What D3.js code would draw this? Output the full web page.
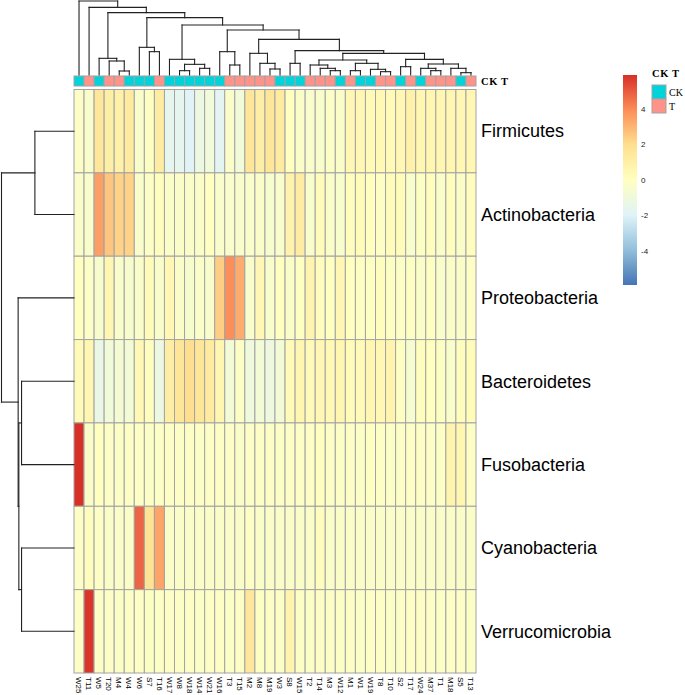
<!DOCTYPE html>
<html><head><meta charset="utf-8">
<script src="https://cdn.jsdelivr.net/npm/d3@7"></script>
<style>body{margin:0;background:#fff} svg{display:block}</style>
</head><body>
<svg id="c" width="685" height="695"></svg>
<script>
// ---------- DATA ----------
const columns = ["W25","T11","W5","T20","M4","W4","W6","S7","T16","W17","W8","W18","W14","W21","W16","T3","T15","M2","M8","M19","W3","S8","W15","T2","T14","M3","W12","M1","W1","W19","T8","T10","S2","T17","W24","M37","T1","M18","S5","T13"];
const columnGroup = ["CK","T","CK","T","T","CK","CK","CK","T","CK","CK","CK","CK","CK","CK","T","T","T","T","T","CK","CK","CK","T","T","T","CK","T","CK","CK","T","T","CK","T","CK","T","T","T","CK","T"];
const groups = ["CK","T"];
const groupColors = ["#00D4DB","#FF9289"];
const rows = ["Firmicutes","Actinobacteria","Proteobacteria","Bacteroidetes","Fusobacteria","Cyanobacteria","Verrucomicrobia"];

const firmicutes      = [-0.2,-0.4,1.5,1.0,0.9,1.3,-0.4,-0.1,1.2,-1.6,-1.6,-1.9,-1.2,-0.9,-1.8,-0.3,-0.9,1.6,1.1,1.6,1.3,0.0,-0.3,-0.4,-0.4,-0.2,-0.3,0.5,0.5,0.3,0.4,0.3,0.5,0.9,0.6,0.6,0.6,0.6,0.5,0.5];
const actinobacteria  = [-0.3,-0.4,3.5,2.6,2.3,2.3,-0.4,-0.2,0.1,-0.3,-0.3,-0.3,-0.3,0.0,-0.4,-0.4,-0.4,-0.4,-0.3,-0.5,-0.4,0.8,1.2,-0.4,0.2,-0.3,-0.4,0.1,0.2,0.0,-0.2,0.2,0.2,-0.4,-0.1,0.1,-0.3,0.1,-0.3,0.1];
const proteobacteria  = [0.0,-0.2,-0.5,0.6,-0.4,-0.5,-0.3,0.2,-0.4,0.5,-0.3,-0.5,-0.3,-0.4,2.4,3.9,3.2,-0.4,0.5,-0.4,0.0,-0.3,-0.1,0.7,0.1,0.0,0.5,0.0,-0.1,-0.1,0.1,-0.1,-0.2,-0.1,-0.3,-0.1,-0.4,-0.3,-0.3,-0.2];
const bacteroidetes   = [0.3,0.6,-1.3,-0.9,-0.7,-0.8,0.4,0.1,-1.2,1.1,1.6,2.0,1.6,1.3,0.6,-0.8,-0.2,-1.0,-0.8,-1.1,-0.8,0.3,0.6,0.3,0.5,0.4,0.6,0.2,0.3,0.6,0.5,0.7,-0.1,-0.6,0.1,0.0,-0.1,-0.4,0.1,0.2];
const fusobacteria    = [5.9,-0.3,0.0,-0.2,-0.2,-0.2,-0.2,-0.2,-0.2,-0.2,-0.2,-0.2,-0.2,-0.2,-0.2,-0.2,-0.3,-0.2,-0.2,-0.2,-0.2,-0.2,-0.2,-0.2,0.0,-0.2,-0.2,-0.2,-0.2,-0.1,-0.2,-0.2,-0.2,-0.2,-0.2,-0.2,-0.2,0.7,0.6,-0.2];
const cyanobacteria   = [-0.2,0.1,-0.2,-0.3,-0.3,-0.3,4.8,1.8,3.4,-0.3,-0.3,-0.3,-0.3,-0.3,-0.3,-0.3,-0.3,-0.2,-0.3,-0.3,-0.3,-0.3,-0.3,-0.3,0.1,-0.3,-0.3,-0.3,-0.3,-0.3,-0.3,-0.3,-0.3,-0.3,-0.3,-0.3,-0.3,-0.3,-0.3,-0.3];
const verrucomicrobia = [-0.2,5.8,-0.2,-0.2,-0.2,-0.2,-0.2,-0.1,-0.2,-0.2,-0.2,-0.2,-0.2,-0.2,-0.2,-0.2,-0.2,1.5,-0.1,-0.2,-0.2,0.7,-0.2,-0.2,-0.2,-0.2,-0.2,-0.2,-0.2,-0.2,-0.2,-0.2,-0.2,-0.2,-0.2,-0.2,-0.2,-0.2,-0.2,-0.2];
const matrix = [firmicutes, actinobacteria, proteobacteria, bacteroidetes, fusobacteria, cyanobacteria, verrucomicrobia];

// dendrograms: [height, left, right]
const colTree = [222,"W25",[203,"T11",[187,[50,"W5",[42,"T20",[12,"M4","W4"]]],[172,[83,"W6",[70,"S7","T16"]],[150,[47,"W17",[32,[13,"W8","W18"],[20,"W14","W21"]]],[135,[70,"W16",[30,"T3","T15"]],[107,[65,"M2",[35,"M8",[18,"M19","W3"]]],[73,[35,"S8","W15"],[65,[45,[30,"T2",[20,"T14",[13,"M3","W12"]]],[35,[13,"M1","W1"],[17,"W19",[10,"T8","T10"]]]],[47,[25,"S2","T17"],[33,[20,"W24",[13,"M37","T1"]],[20,"M18",[7,"S5","T13"]]]]]]]]]]]]];
const rowTree = [72.3,[39,"Firmicutes","Actinobacteria"],[55.7,"Proteobacteria",[55,[52.3,"Bacteroidetes","Fusobacteria"],[52.3,"Cyanobacteria","Verrucomicrobia"]]]];

const legendTicks = [4,2,0,-2,-4];
const paletteStops = ["#4575B4","#91BFDB","#E0F3F8","#FFFFBF","#FEE090","#FC8D59","#D73027"];
const valueMax = 5.9;

// ---------- DRAW ----------
const svg = d3.select("#c");
const x = d3.scaleBand().domain(columns).range([74, 476]);
const y = d3.scaleBand().domain(rows).range([89.5, 673]);
const color = d3.scaleLinear()
  .domain(paletteStops.map((d,i) => -valueMax + i * 2 * valueMax / (paletteStops.length - 1)))
  .range(paletteStops);
const gColor = d3.scaleOrdinal().domain(groups).range(groupColors);
const border = "#A3A3A3";

// heatmap cells
const cells = [];
rows.forEach((r, i) => columns.forEach((c, j) => cells.push({r, c, v: matrix[i][j]})));
svg.append("g").selectAll("rect").data(cells).join("rect")
  .attr("x", d => x(d.c)).attr("y", d => y(d.r))
  .attr("width", x.bandwidth()).attr("height", y.bandwidth())
  .attr("fill", d => color(d.v)).attr("stroke", border).attr("stroke-width", 1);

// annotation bar
svg.append("g").selectAll("rect").data(columns).join("rect")
  .attr("x", d => x(d)).attr("y", 76).attr("width", x.bandwidth()).attr("height", 10)
  .attr("fill", (d,i) => gColor(columnGroup[i])).attr("stroke", border).attr("stroke-width", 1);
svg.append("text").attr("x", 481).attr("y", 84.5).text("CK T")
  .attr("font-family", "Liberation Serif, serif").attr("font-weight", "bold").attr("font-size", 10.5)
  .attr("letter-spacing", 0.6);

// row labels
svg.append("g").selectAll("text").data(rows).join("text")
  .attr("x", 481).attr("y", d => y(d) + y.bandwidth()/2).attr("dy", "0.35em")
  .attr("font-family", "Liberation Sans, Arial, sans-serif").attr("font-size", 18).text(d => d);

// column labels
svg.append("g").selectAll("text").data(columns).join("text")
  .attr("transform", d => `translate(${x(d) + x.bandwidth()/2},677) rotate(90)`)
  .attr("dy", "0.35em")
  .attr("font-family", "Liberation Sans, Arial, sans-serif").attr("font-size", 8).text(d => d);

// dendrogram helper
function drawDendro(tree, leafPos, hScale, horizontal, g) {
  const segs = [];
  function walk(n) {
    if (typeof n === "string") return {p: leafPos(n), h: 0};
    const a = walk(n[1]), b = walk(n[2]);
    const h = n[0];
    segs.push([a.p, a.h, a.p, h], [a.p, h, b.p, h], [b.p, b.h, b.p, h]);
    return {p: (a.p + b.p) / 2, h};
  }
  walk(tree);
  g.selectAll("line").data(segs).join("line")
    .attr("x1", d => horizontal ? d[0] : hScale(d[1]))
    .attr("y1", d => horizontal ? hScale(d[1]) : d[0])
    .attr("x2", d => horizontal ? d[2] : hScale(d[3]))
    .attr("y2", d => horizontal ? hScale(d[3]) : d[2])
    .attr("stroke", "#222").attr("stroke-width", 1.1).attr("stroke-linecap", "square");
}
const colH = d3.scaleLinear().domain([0, 222]).range([75, 1]);
drawDendro(colTree, c => x(c) + x.bandwidth()/2, colH, true, svg.append("g"));
const rowH = d3.scaleLinear().domain([0, 72.3]).range([74, 1.5]);
drawDendro(rowTree, r => y(r) + y.bandwidth()/2, rowH, false, svg.append("g"));

// colour legend
const ly = d3.scaleLinear().domain([valueMax, -valueMax]).range([75, 285]);
const defs = svg.append("defs");
const grad = defs.append("linearGradient").attr("id", "lg").attr("x1", 0).attr("y1", 0).attr("x2", 0).attr("y2", 1);
paletteStops.slice().reverse().forEach((c, i) => grad.append("stop").attr("offset", i / (paletteStops.length - 1)).attr("stop-color", c));
svg.append("rect").attr("x", 623).attr("y", ly(valueMax)).attr("width", 14).attr("height", ly(-valueMax) - ly(valueMax)).attr("fill", "url(#lg)");
svg.append("g").selectAll("text").data(legendTicks).join("text")
  .attr("x", 641).attr("y", d => ly(d)).attr("dy", "0.35em")
  .attr("font-family", "Liberation Sans, Arial, sans-serif").attr("font-size", 8).attr("fill", "#222")
  .text(d => d);

// annotation legend
svg.append("text").attr("x", 652).attr("y", 77).text("CK T")
  .attr("font-family", "Liberation Serif, serif").attr("font-weight", "bold").attr("font-size", 10.5).attr("letter-spacing", 0.6);
const lg = svg.append("g").selectAll("g").data(groups).join("g");
lg.append("rect").attr("x", 652).attr("y", (d,i) => 85 + i*14).attr("width", 14).attr("height", 14)
  .attr("fill", d => gColor(d)).attr("stroke", border).attr("stroke-width", 1);
lg.append("text").attr("x", 669).attr("y", (d,i) => 92 + i*14).attr("dy", "0.35em")
  .attr("font-family", "Liberation Serif, serif").attr("font-size", 10).text(d => d);
</script>
</body></html>
